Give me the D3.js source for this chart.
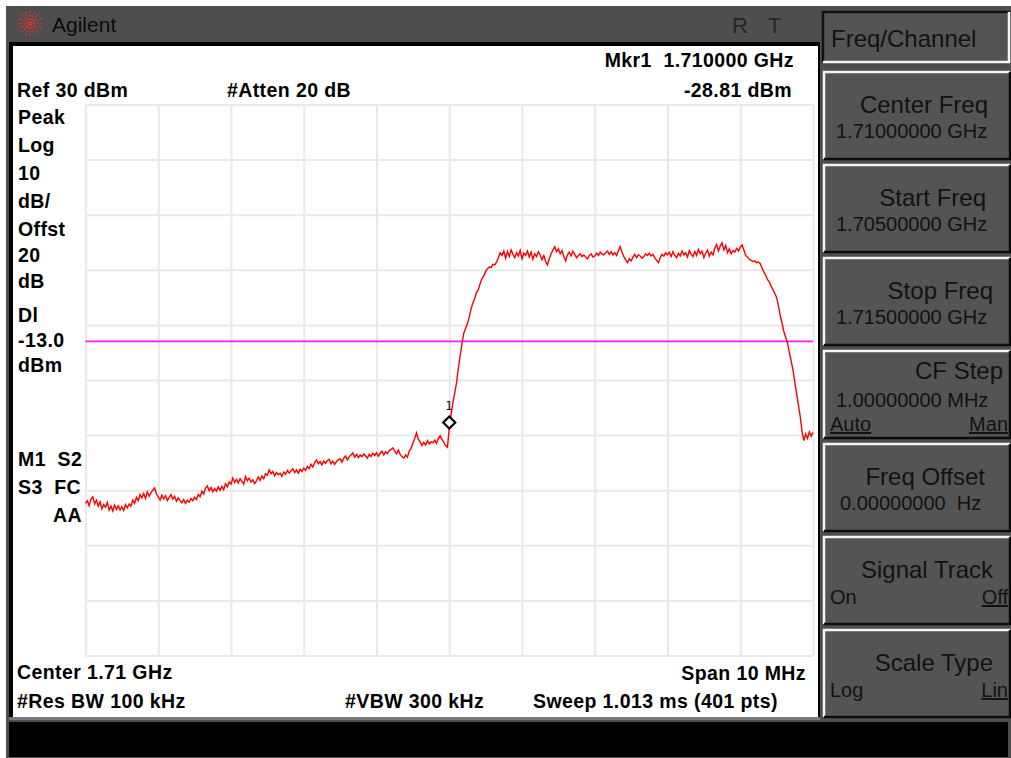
<!DOCTYPE html>
<html>
<head>
<meta charset="utf-8">
<script src="https://cdn.jsdelivr.net/npm/d3@7/dist/d3.min.js"></script>
<style>
body { margin: 0; background: #fff; }
svg { display: block; }
text { white-space: pre; }
.scr { font-family: "Liberation Sans", Arial, sans-serif; font-weight: bold; font-size: 19.5px; letter-spacing: 0.4px; fill: #000; }
.key { font-family: "Liberation Sans", Arial, sans-serif; fill: #121212; }
.grid line { stroke: #e9e9e9; stroke-width: 2; }
.grid path { display: none; }
</style>
</head>
<body>
<svg id="chart" width="1011" height="758"></svg>
<script>
"use strict";

/*global d3*/

var startFreq = 1.705, // GHz
    stopFreq = 1.715,
    refLevel = 30, // dBm
    dbPerDiv = 10,
    divisions = 10,
    displayLine = -13.0,
    markerFreq = 1.710,
    markerDbm = -28.81,

    // 401 sweep points
    traceDbm = [
	-42.4,-41.9,-42.8,-41.6,-41.2,-42.5,-41.8,-42.9,-42.1,-43.4,-42.6,-43.1,-42.2,-43.6,-42.9,-43.8,-42.7,-43.5,-42.8,-43.6,
	-43.0,-43.7,-42.6,-43.2,-42.5,-42.9,-41.8,-42.4,-41.3,-41.9,-40.8,-41.4,-40.6,-41.5,-40.3,-41.1,-40.5,-40.0,-39.6,-40.7,
	-41.2,-41.8,-40.9,-41.6,-41.0,-41.9,-41.3,-40.8,-41.6,-41.1,-42.0,-41.4,-41.9,-42.3,-41.7,-42.4,-41.8,-42.2,-41.5,-41.9,
	-41.3,-41.7,-40.8,-41.2,-40.2,-40.7,-39.6,-39.2,-40.1,-39.5,-40.3,-39.7,-40.2,-39.4,-40.0,-39.3,-39.9,-38.8,-39.4,-38.5,
	-38.9,-37.8,-38.6,-38.0,-38.7,-37.9,-38.4,-38.9,-37.5,-38.3,-37.8,-38.5,-38.1,-38.8,-38.3,-37.6,-38.2,-37.4,-37.9,-37.0,
	-37.3,-36.3,-37.0,-36.6,-37.4,-36.8,-37.2,-36.9,-37.5,-36.7,-37.1,-36.4,-36.9,-36.5,-36.1,-36.8,-36.3,-36.9,-36.2,-36.6,
	-36.0,-36.4,-35.7,-36.1,-35.3,-35.8,-35.0,-34.5,-35.2,-34.8,-35.4,-34.7,-35.1,-34.6,-34.4,-35.2,-34.7,-35.3,-34.8,-34.5,
	-34.3,-34.9,-34.2,-33.8,-34.5,-33.9,-33.6,-33.2,-34.0,-33.5,-34.1,-33.6,-33.9,-33.4,-33.8,-34.2,-33.5,-33.9,-33.3,-33.7,
	-33.2,-33.8,-33.3,-32.9,-33.6,-33.0,-33.4,-32.8,-32.6,-32.3,-32.9,-33.4,-32.7,-33.5,-33.9,-34.2,-33.6,-34.0,-32.9,-32.4,
	-31.5,-30.6,-29.6,-30.8,-31.2,-31.9,-31.3,-31.8,-31.0,-31.6,-31.2,-31.4,-30.9,-31.5,-30.6,-30.1,-30.8,-31.3,-31.9,-32.2,
	-28.81,-26.3,-24.1,-22.4,-20.5,-17.9,-15.6,-13.4,-11.5,-10.6,-9.8,-8.6,-7.1,-6.0,-5.2,-4.1,-3.6,-2.5,-1.6,-1.1,
	-0.3,0.2,0.5,0.4,1.0,0.9,1.4,2.2,3.1,
	2.6,3.4,2.1,3.3,2.4,3.6,2.8,2.2,3.1,2.5,3.5,2.0,3.0,2.6,3.4,2.3,3.2,1.9,2.9,2.4,
	3.3,2.7,1.8,2.6,1.5,0.9,2.0,2.9,3.6,4.2,3.3,3.8,2.9,3.5,2.4,1.6,2.7,3.2,2.5,3.4,
	2.8,2.2,2.6,2.9,2.4,2.7,2.3,2.0,2.6,2.9,2.3,2.5,3.0,2.6,3.2,2.9,2.7,3.1,3.4,2.8,
	3.3,2.7,3.1,2.6,3.5,4.2,3.2,2.4,1.8,1.3,2.0,1.6,2.3,2.8,2.2,2.7,2.5,2.1,2.4,2.9,
	2.6,3.0,2.5,2.8,2.2,1.7,1.3,2.2,2.8,2.5,3.1,2.7,3.2,2.4,3.3,2.6,2.2,3.0,2.5,3.4,
	2.7,3.1,2.3,3.5,2.8,2.4,3.3,2.6,3.7,2.9,3.4,2.2,3.0,3.6,2.5,3.2,2.7,3.9,4.6,3.4,
	4.3,4.9,3.6,4.4,3.1,3.8,2.9,3.5,3.2,3.9,3.4,4.1,4.5,3.6,2.6,
	2.3,1.9,1.7,1.5,1.6,1.3,1.4,1.1,0.3,-0.4,-1.0,-1.8,-2.2,-3.0,-3.6,-4.3,-5.0,-6.6,-8.3,-9.7,
	-11.2,-12.3,-13.3,-15.0,-16.6,-18.2,-20.4,-22.5,-24.6,-26.7,-29.4,-31.0,-29.8,-30.6,-29.4,-30.2,-29.5
    ],

    leftLabels = ["Peak", "Log", "10", "dB/", "Offst", "20", "dB", "Dl", "-13.0", "dBm", "M1  S2", "S3  FC", "AA"],
    leftBaselines = [124, 152, 180, 208, 236, 262, 288, 322, 347, 372, 466, 494, 522],
    leftX = [18, 18, 18, 18, 18, 18, 18, 18, 18, 18, 18, 18, 53],

    statusTexts = ["Mkr1  1.710000 GHz", "-28.81 dBm", "Ref 30 dBm", "#Atten 20 dB",
		   "Center 1.71 GHz", "Span 10 MHz", "#Res BW 100 kHz", "#VBW 300 kHz",
		   "Sweep 1.013 ms (401 pts)"],
    statusPos = [[794, 67, "end"], [792, 97, "end"], [17, 97, "start"], [227, 97, "start"],
		 [17, 679, "start"], [806, 680, "end"], [17, 708, "start"], [345, 708, "start"],
		 [533, 708, "start"]],

    menuTitle = "Freq/Channel",
    keyLabels = ["Center Freq", "Start Freq", "Stop Freq", "CF Step", "Freq Offset", "Signal Track", "Scale Type"],
    keyValues = ["1.71000000 GHz", "1.70500000 GHz", "1.71500000 GHz", "1.00000000 MHz", "0.00000000  Hz", null, null],
    keyChoices = [null, null, null, ["Auto", "Man"], null, ["On", "Off"], ["Log", "Lin"]],
    keyUnderlined = [null, null, null, [true, true], null, [false, true], [false, true]],
    keyLabelRight = [988, 986, 993, 1003, 985, 993, 993],

    plotLeft = 85.5,
    plotRight = 813,
    plotTop = 104.5,
    plotBottom = 655.5;

var svg = d3.select("#chart");

var x = d3.scaleLinear()
	.domain([startFreq, stopFreq])
	.range([plotLeft, plotRight]),
    y = d3.scaleLinear()
	.domain([refLevel - dbPerDiv * divisions, refLevel])
	.range([plotBottom, plotTop]),
    pointFreq = d3.scaleLinear()
	.domain([0, traceDbm.length - 1])
	.range([startFreq, stopFreq]);

// instrument body
svg.append("rect").attr("x", 6).attr("y", 6).attr("width", 1005).attr("height", 752).attr("fill", "#4e4e4e");
svg.append("rect").attr("x", 9).attr("y", 42).attr("width", 811).attr("height", 678).attr("fill", "#000");
svg.append("rect").attr("x", 13).attr("y", 46).attr("width", 805).attr("height", 671).attr("fill", "#fff");
svg.append("rect").attr("x", 9).attr("y", 717).attr("width", 811).attr("height", 3).attr("fill", "#7a7a7a");
svg.append("rect").attr("x", 9).attr("y", 722).attr("width", 999).attr("height", 35).attr("fill", "#000");

// Agilent spark logo
var logo = svg.append("g").attr("transform", "translate(30,23.5)");
logo.selectAll("line")
    .data(d3.range(0, 180, 22.5))
    .enter().append("line")
    .attr("x1", function(a) { return -12 * Math.cos(a * Math.PI / 180); })
    .attr("y1", function(a) { return -12 * Math.sin(a * Math.PI / 180); })
    .attr("x2", function(a) { return 12 * Math.cos(a * Math.PI / 180); })
    .attr("y2", function(a) { return 12 * Math.sin(a * Math.PI / 180); })
    .attr("stroke", "#e03434")
    .attr("stroke-width", 1.6)
    .attr("stroke-dasharray", "1.6,1.6");

svg.append("text").attr("class", "key")
    .attr("x", 52).attr("y", 32)
    .attr("font-size", 21)
    .style("fill", "#0a0a0a")
    .text("Agilent");

svg.selectAll("text.rt")
    .data([["R", 732], ["T", 768]])
    .enter().append("text")
    .attr("class", "key rt")
    .attr("x", function(d) { return d[1]; })
    .attr("y", 33)
    .attr("font-size", 22)
    .style("fill", "#262626")
    .text(function(d) { return d[0]; });

// graticule
var xTicks = d3.range(divisions + 1).map(function(i) {
	return startFreq + i * (stopFreq - startFreq) / divisions;
    }),
    yTicks = d3.range(divisions + 1).map(function(i) {
	return refLevel - i * dbPerDiv;
    });

svg.append("g")
    .attr("class", "grid")
    .attr("transform", "translate(0," + plotBottom + ")")
    .call(d3.axisBottom(x).tickValues(xTicks).tickSize(-(plotBottom - plotTop)).tickFormat(""));

svg.append("g")
    .attr("class", "grid")
    .attr("transform", "translate(" + plotLeft + ",0)")
    .call(d3.axisLeft(y).tickValues(yTicks).tickSize(-(plotRight - plotLeft)).tickFormat(""));

// display line
svg.append("line")
    .attr("x1", x(startFreq)).attr("x2", x(stopFreq))
    .attr("y1", y(displayLine)).attr("y2", y(displayLine))
    .attr("stroke", "#ff1aff")
    .attr("stroke-width", 1.8);

// trace
svg.append("path")
    .datum(traceDbm)
    .attr("fill", "none")
    .attr("stroke", "#ff0000")
    .attr("stroke-width", 1.4)
    .attr("d", d3.line()
	  .x(function(d, i) { return x(pointFreq(i)); })
	  .y(function(d) { return y(d); }));

// marker 1
var mx = x(markerFreq),
    my = y(markerDbm);

svg.append("path")
    .attr("d", "M" + mx + "," + my + "l6,-6l-6,-6l-6,6z")
    .attr("fill", "#fff")
    .attr("stroke", "#000")
    .attr("stroke-width", 2.2);

svg.append("text")
    .attr("x", mx - 4).attr("y", my - 19)
    .attr("font-family", "DejaVu Sans Mono, monospace")
    .attr("font-size", 12)
    .text("1");

// screen annotations
svg.selectAll("text.left")
    .data(leftLabels)
    .enter().append("text")
    .attr("class", "scr left")
    .attr("x", function(d, i) { return leftX[i]; })
    .attr("y", function(d, i) { return leftBaselines[i]; })
    .text(function(d) { return d; });

svg.selectAll("text.status")
    .data(statusTexts)
    .enter().append("text")
    .attr("class", "scr status")
    .attr("x", function(d, i) { return statusPos[i][0]; })
    .attr("y", function(d, i) { return statusPos[i][1]; })
    .attr("text-anchor", function(d, i) { return statusPos[i][2]; })
    .text(function(d) { return d; });

// softkey panel
var bevel = function(g, w, h, light, dark) {
    g.append("rect").attr("width", w).attr("height", h).attr("fill", "#545454");
    g.append("path").attr("d", "M0," + h + "V0H" + w).attr("fill", "none")
	.attr("stroke", light).attr("stroke-width", 2.5);
    g.append("path").attr("d", "M" + w + ",0V" + h + "H0").attr("fill", "none")
	.attr("stroke", dark).attr("stroke-width", 2.5);
};

var title = svg.append("g").attr("transform", "translate(823,12)");
bevel(title, 186, 50, "#111", "#f4f4f4");
title.append("text").attr("class", "key")
    .attr("x", 8).attr("y", 35)
    .attr("font-size", 24)
    .text(menuTitle);

var keyTop = 72,
    keyPitch = 93,
    keyHeight = 87,
    keyLeft = 824,
    keyWidth = 186;

svg.selectAll("g.softkey")
    .data(keyLabels)
    .enter().append("g")
    .classed("softkey", true)
    .attr("transform", function(d, i) {
	return "translate(" + keyLeft + "," + (keyTop + i * keyPitch) + ")";
    })
    .each(function(d, i) {
	var g = d3.select(this),
	    hasChoice = keyChoices[i] !== null,
	    short = hasChoice && keyValues[i] !== null;

	bevel(g, keyWidth, keyHeight, "#f4f4f4", "#0c0c0c");

	g.append("text").attr("class", "key")
	    .attr("x", keyLabelRight[i] - keyLeft)
	    .attr("y", short ? 28 : 41)
	    .attr("text-anchor", "end")
	    .attr("font-size", 24)
	    .text(d);

	if (keyValues[i] !== null) {
	    g.append("text").attr("class", "key")
		.attr("x", i === 4 ? 16 : 12)
		.attr("y", short ? 56 : 66)
		.attr("font-size", 20)
		.text(keyValues[i]);
	}

	if (hasChoice) {
	    var cy = short ? 80 : 67;
	    keyChoices[i].forEach(function(c, j) {
		var t = g.append("text").attr("class", "key")
			.attr("x", j === 0 ? 6 : keyWidth - 2)
			.attr("y", cy)
			.attr("text-anchor", j === 0 ? "start" : "end")
			.attr("font-size", 20)
			.text(c);
		if (keyUnderlined[i][j]) {
		    t.attr("text-decoration", "underline");
		}
	    });
	}
    });
</script>
</body>
</html>
